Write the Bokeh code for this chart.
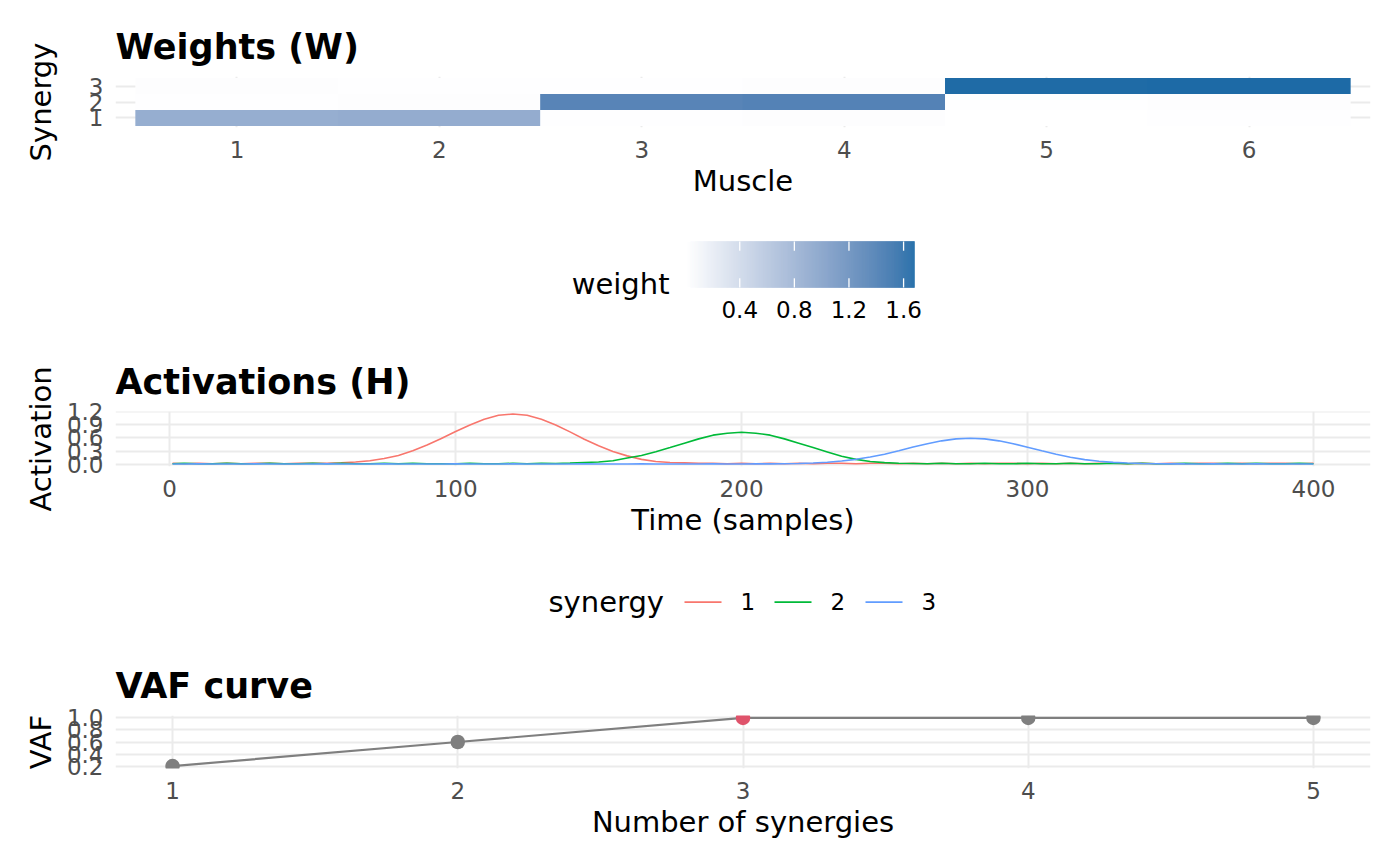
import math
from bokeh.plotting import figure
from bokeh.layouts import column
from bokeh.models import (Range1d, FixedTicker, PrintfTickFormatter,
                          LinearColorMapper, ColumnDataSource, AllLabels)
from bokeh.transform import transform
from bokeh.embed import file_html
from bokeh.resources import INLINE
from bokeh.core.properties import value

# ---------------- data ----------------
muscles = [1, 2, 3, 4, 5, 6]
synergies = [1, 2, 3]
w_syn1 = [0.88, 0.90, 0.02, 0.03, 0.01, 0.02]
w_syn2 = [0.02, 0.03, 1.36, 1.38, 0.02, 0.03]
w_syn3 = [0.03, 0.02, 0.02, 0.03, 1.67, 1.68]
weight_ticks = [0.4, 0.8, 1.2, 1.6]

time = [1] + list(range(5, 401, 5))
act_syn1 = [0.02, 0.01, 0.02, 0.01, 0.02, 0.01, 0.02, 0.02, 0.01, 0.02,
            0.02, 0.02, 0.03, 0.05, 0.08, 0.13, 0.20, 0.31, 0.44, 0.59,
            0.75, 0.90, 1.03, 1.12, 1.15, 1.12, 1.03, 0.90, 0.74, 0.57,
            0.42, 0.29, 0.19, 0.11, 0.06, 0.04, 0.03, 0.02, 0.02, 0.01,
            0.02, 0.01, 0.02, 0.01, 0.02, 0.01, 0.02, 0.02, 0.01, 0.02,
            0.02, 0.01, 0.02, 0.01, 0.02, 0.01, 0.02, 0.01, 0.02, 0.02,
            0.01, 0.02, 0.01, 0.02, 0.01, 0.02, 0.02, 0.01, 0.02, 0.01,
            0.02, 0.01, 0.02, 0.02, 0.01, 0.02, 0.01, 0.02, 0.02, 0.01,
            0.02]
act_syn2 = [0.01, 0.02, 0.01, 0.01, 0.02, 0.01, 0.01, 0.02, 0.01, 0.01,
            0.02, 0.01, 0.02, 0.01, 0.01, 0.02, 0.01, 0.02, 0.01, 0.01,
            0.01, 0.02, 0.01, 0.01, 0.02, 0.01, 0.02, 0.015, 0.025, 0.04,
            0.05, 0.08, 0.14, 0.20, 0.285, 0.38, 0.48, 0.58, 0.665, 0.71,
            0.73, 0.71, 0.665, 0.58, 0.48, 0.38, 0.28, 0.18, 0.11, 0.06,
            0.035, 0.02, 0.015, 0.01, 0.02, 0.01, 0.01, 0.02, 0.01, 0.01,
            0.02, 0.01, 0.01, 0.02, 0.01, 0.01, 0.02, 0.01, 0.02, 0.01,
            0.01, 0.02, 0.01, 0.01, 0.02, 0.01, 0.02, 0.01, 0.01, 0.02,
            0.01]
act_syn3 = [0.005, 0.004, 0.006, 0.005, 0.004, 0.005, 0.006, 0.004, 0.005, 0.005,
            0.004, 0.006, 0.005, 0.004, 0.005, 0.006, 0.004, 0.005, 0.005, 0.004,
            0.006, 0.005, 0.004, 0.005, 0.006, 0.004, 0.005, 0.005, 0.004, 0.006,
            0.005, 0.004, 0.005, 0.006, 0.004, 0.005, 0.005, 0.004, 0.006, 0.005,
            0.005, 0.006, 0.007, 0.009, 0.017, 0.028, 0.045, 0.072, 0.111, 0.163,
            0.229, 0.306, 0.395, 0.470, 0.535, 0.579, 0.595, 0.579, 0.535, 0.468,
            0.389, 0.306, 0.229, 0.160, 0.105, 0.066, 0.042, 0.026, 0.016, 0.010,
            0.008, 0.006, 0.005, 0.006, 0.004, 0.005, 0.006, 0.005, 0.004, 0.005,
            0.005]
act_ticks_x = [0, 100, 200, 300, 400]
act_ticks_y = [0.0, 0.3, 0.6, 0.9, 1.2]

n_syn = [1, 2, 3, 4, 5]
vaf = [0.2, 0.6, 1.0, 1.0, 1.0]
selected_k = 3
vaf_ticks_y = [0.2, 0.4, 0.6, 0.8, 1.0]

syn_colors = ["#F8766D", "#00BA38", "#619CFF"]

# ---------------- helpers ----------------
FONT = "DejaVu Sans"
W = 1384
LEFT = 115
RIGHT = 14
FX0, FX1 = LEFT, W - RIGHT


def _lin(c):
    c = c / 255.0
    return ((c + 0.055) / 1.055) ** 2.4 if c > 0.04045 else c / 12.92


def _gam(c):
    c = 1.055 * c ** (1 / 2.4) - 0.055 if c > 0.0031308 else 12.92 * c
    return max(0, min(255, round(c * 255)))


def hex2lab(h):
    r, g, b = (_lin(int(h[i:i + 2], 16)) for i in (1, 3, 5))
    X = (0.4124 * r + 0.3576 * g + 0.1805 * b) / 0.95047
    Y = (0.2126 * r + 0.7152 * g + 0.0722 * b)
    Z = (0.0193 * r + 0.1192 * g + 0.9505 * b) / 1.08883
    f = lambda t: t ** (1 / 3) if t > 0.008856 else 7.787 * t + 16 / 116
    return (116 * f(Y) - 16, 500 * (f(X) - f(Y)), 200 * (f(Y) - f(Z)))


def lab2hex(L, a, b):
    fy = (L + 16) / 116
    fx = fy + a / 500
    fz = fy - b / 200
    fi = lambda t: t ** 3 if t ** 3 > 0.008856 else (t - 16 / 116) / 7.787
    X, Y, Z = fi(fx) * 0.95047, fi(fy), fi(fz) * 1.08883
    r = 3.2406 * X - 1.5372 * Y - 0.4986 * Z
    g = -0.9689 * X + 1.8758 * Y + 0.0415 * Z
    bb = 0.0557 * X - 0.2040 * Y + 1.0570 * Z
    return "#%02x%02x%02x" % (_gam(max(r, 0)), _gam(max(g, 0)), _gam(max(bb, 0)))


lo_lab, hi_lab = hex2lab("#FFFFFF"), hex2lab("#1D6AA6")
palette = [lab2hex(*[lo_lab[j] + (hi_lab[j] - lo_lab[j]) * i / 255 for j in range(3)])
           for i in range(256)]


def make_panel(h, xr, yr, top, fh, title, xlab, ylab, ylab_standoff):
    p = figure(width=W, height=h, x_range=xr, y_range=yr, output_backend="svg",
               toolbar_location=None, title=title, min_border_left=LEFT,
               min_border_right=RIGHT, min_border_top=top, min_border_bottom=h - top - fh)
    p.outline_line_color = None
    p.background_fill_color = "white"
    p.border_fill_color = "white"
    p.title.text_font = FONT
    p.title.text_font_size = "35px"
    p.title.text_font_style = "bold"
    p.title.text_color = "black"
    p.title.align = "left"
    p.title.offset = 0
    p.title.standoff = 19
    for ax in p.axis:
        ax.axis_line_color = None
        ax.major_tick_line_color = None
        ax.minor_tick_line_color = None
        ax.major_tick_out = 0
        ax.major_tick_in = 0
        ax.minor_tick_out = 0
        ax.minor_tick_in = 0
        ax.major_label_text_font = FONT
        ax.major_label_text_font_size = "23px"
        ax.major_label_text_color = "#4D4D4D"
        ax.major_label_policy = AllLabels()
        ax.axis_label_text_font = FONT
        ax.axis_label_text_font_size = "29px"
        ax.axis_label_text_font_style = "normal"
        ax.axis_label_text_color = "black"
    p.xaxis.major_label_standoff = 13
    p.yaxis.major_label_standoff = 12
    p.xaxis.axis_label = xlab
    p.xaxis.axis_label_standoff = 3
    p.yaxis.axis_label = ylab
    p.yaxis.axis_label_standoff = ylab_standoff
    p.grid.grid_line_color = "#EBEBEB"
    p.grid.grid_line_width = 2
    return p


def make_strip(h):
    p = figure(width=W, height=h, x_range=Range1d(FX0, FX1), y_range=Range1d(0, h),
               output_backend="svg", toolbar_location=None, title=None,
               min_border_left=LEFT, min_border_right=RIGHT, min_border_top=0,
               min_border_bottom=0, x_axis_type=None, y_axis_type=None)
    p.outline_line_color = None
    p.background_fill_color = "white"
    p.border_fill_color = "white"
    p.grid.visible = False
    return p


def put_text(p, x, y, txt, size, align="left"):
    p.text(x=[x], y=[y], text=[txt], text_font=value(FONT), text_font_size=value(size),
           text_align=align, text_baseline="alphabetic", text_color="black")


def expand(vals, frac=0.05):
    lo, hi = min(vals), max(vals)
    d = (hi - lo) * frac
    return Range1d(lo - d, hi + d)


# ---------------- panel 1: weights ----------------
wx, wy, wv = [], [], []
for s, row in zip(synergies, [w_syn1, w_syn2, w_syn3]):
    for m, v in zip(muscles, row):
        wx.append(m)
        wy.append(s)
        wv.append(v)
vmin, vmax = min(wv), max(wv)
mapper = LinearColorMapper(palette=palette, low=vmin, high=vmax)

p1 = make_panel(215, Range1d(min(muscles) - 0.6, max(muscles) + 0.6),
                Range1d(min(synergies) - 0.6, max(synergies) + 0.6), 76, 51,
                "Weights (W)", "Muscle", "Synergy", 28)
p1.xaxis.ticker = FixedTicker(ticks=muscles)
p1.yaxis.ticker = FixedTicker(ticks=synergies)
src_w = ColumnDataSource(dict(x=wx, y=wy, w=wv))
p1.rect(x="x", y="y", width=1.004, height=1.004, source=src_w,
        fill_color=transform("w", mapper), line_color=None)

# ---------------- strip: colourbar legend ----------------
l1 = make_strip(125)
bar_x0, bar_w, bar_y0, bar_h = 686, 228, 53, 46
n_steps = 228
g_left = [bar_x0 + i * bar_w / n_steps for i in range(n_steps)]
g_right = [bar_x0 + (i + 1) * bar_w / n_steps for i in range(n_steps)]
g_val = [vmin + (i + 0.5) / n_steps * (vmax - vmin) for i in range(n_steps)]
src_g = ColumnDataSource(dict(l=g_left, r=g_right, v=g_val))
l1.quad(left="l", right="r", bottom=bar_y0, top=bar_y0 + bar_h, source=src_g,
        fill_color=transform("v", mapper), line_color=transform("v", mapper), line_width=0.5)
tick_px = [bar_x0 + (t - vmin) / (vmax - vmin) * bar_w for t in weight_ticks]
tl = bar_h / 5
nt = len(tick_px)
l1.segment(x0=tick_px, x1=tick_px, y0=[bar_y0] * nt, y1=[bar_y0 + tl] * nt,
           line_color="white", line_width=1.3)
l1.segment(x0=tick_px, x1=tick_px, y0=[bar_y0 + bar_h - tl] * nt, y1=[bar_y0 + bar_h] * nt,
           line_color="white", line_width=1.3)
l1.text(x=tick_px, y=[31] * nt, text=["%.1f" % t for t in weight_ticks],
        text_font=value(FONT), text_font_size=value("23px"), text_align="center",
        text_baseline="alphabetic", text_color="black")
put_text(l1, 669, 57, "weight", "29px", align="right")

# ---------------- panel 2: activations ----------------
all_act = act_syn1 + act_syn2 + act_syn3
p3 = make_panel(220, expand(time), expand(all_act), 71, 55,
                "Activations (H)", "Time (samples)", "Activation", 6)
p3.xaxis.ticker = FixedTicker(ticks=act_ticks_x)
p3.yaxis.ticker = FixedTicker(ticks=act_ticks_y)
p3.yaxis.formatter = PrintfTickFormatter(format="%.1f")
for series, col in zip([act_syn1, act_syn2, act_syn3], syn_colors):
    p3.line(time, series, line_color=col, line_width=1.6)

# ---------------- strip: synergy legend ----------------
l2 = make_strip(80)
put_text(l2, 548, 39, "synergy", "29px", align="left")
key_x0 = [684, 774, 865]
key_len = 37
for x0, col, s in zip(key_x0, syn_colors, synergies):
    l2.line([x0, x0 + key_len], [38.3, 38.3], line_color=col, line_width=1.8)
    put_text(l2, x0 + key_len + 19, 39.5, str(s), "23px", align="left")

# ---------------- panel 3: VAF ----------------
p5 = make_panel(210, Range1d(min(n_syn) - 0.2, max(n_syn) + 0.2), expand(vaf), 75, 53,
                "VAF curve", "Number of synergies", "VAF", 6)
p5.xaxis.ticker = FixedTicker(ticks=n_syn)
p5.yaxis.ticker = FixedTicker(ticks=vaf_ticks_y)
p5.yaxis.formatter = PrintfTickFormatter(format="%.1f")
p5.line(n_syn, vaf, line_color="#7F7F7F", line_width=2.2)
pt_cols = ["#DF536B" if k == selected_k else "#7F7F7F" for k in n_syn]
p5.scatter(n_syn, vaf, size=14.5, fill_color=pt_cols, line_color=None)

layout = column(p1, l1, p3, l2, p5, spacing=0)
open("out.html", "w").write(file_html(layout, INLINE))
